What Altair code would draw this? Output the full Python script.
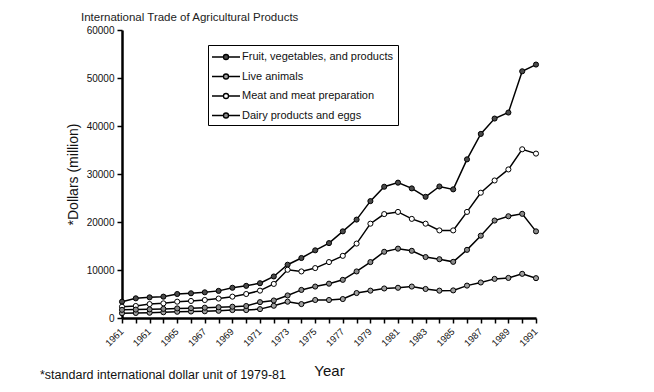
import altair as alt
import pandas as pd

years = list(range(1961, 1992))

fruit = [3400, 4100, 4300, 4450, 5000, 5150, 5350, 5650, 6300, 6700, 7250, 8650,
         11100, 12500, 14100, 15600, 18050, 20500, 24350, 27350, 28200, 27000,
         25250, 27400, 26800, 33050, 38350, 41550, 42800, 51400, 52800]
meat = [2350, 2500, 2900, 3050, 3400, 3550, 3750, 4050, 4450, 5000, 5700, 7100,
        10050, 9700, 10400, 11650, 12950, 15500, 19650, 21650, 22100, 20650,
        19650, 18250, 18250, 22100, 26100, 28650, 30950, 35150, 34250]
dairy = [1700, 1750, 1800, 1900, 2000, 2050, 2150, 2250, 2350, 2500, 3300, 3650,
         4700, 5850, 6550, 7150, 7950, 9700, 11650, 13800, 14450, 14000,
         12700, 12250, 11700, 14200, 17150, 20300, 21200, 21700, 18050]
live = [1000, 1050, 1100, 1200, 1300, 1350, 1400, 1500, 1650, 1650, 1850, 2550,
        3400, 2900, 3750, 3750, 3950, 5200, 5700, 6150, 6300, 6550,
        6050, 5700, 5750, 6750, 7400, 8150, 8350, 9200, 8300]

series_names = ["Fruit, vegetables, and products", "Live animals",
                "Meat and meat preparation", "Dairy products and eggs"]
series_values = [fruit, live, meat, dairy]
marker_fills = ["#4a4a4a", "#a0a0a0", "#ffffff", "#8a8a8a"]

y_ticks = [0, 10000, 20000, 30000, 40000, 50000, 60000]

title_text = "International Trade of Agricultural Products"
y_title = "*Dollars (million)"
x_title = "Year"
footnote = "*standard international dollar unit of 1979-81"

rows = []
for name, vals in zip(series_names, series_values):
    for yr, v in zip(years, vals):
        rows.append({"year": yr, "value": v, "series": name})
df = pd.DataFrame(rows)

FONT = "Liberation Sans"

x_axis = alt.Axis(
    values=years,
    labelExpr="datum.value % 2 == 1 ? (datum.value == 1963 ? '1961' : toString(datum.value)) : ''",
    labelAngle=-45, labelAlign="right", labelBaseline="top",
    labelFontSize=9.5, labelFont=FONT, labelColor="#111",
    labelOverlap=False, labelFlush=False, labelBound=False, labelPadding=3,
    labelOffset=-4,
    tickSize=5, tickWidth=1.5, tickColor="black",
    domainWidth=2.5, domainColor="black",
    title=x_title, titleFont=FONT, titleFontSize=15, titleFontWeight="normal",
    titleColor="#111", titleY=57, titleBaseline="alphabetic",
    grid=False,
)
y_axis = alt.Axis(
    values=y_ticks, format="d",
    labelFontSize=10, labelFont=FONT, labelColor="#111", labelPadding=3,
    tickSize=5, tickWidth=1.5, tickColor="black",
    domainWidth=2.5, domainColor="black",
    title=y_title, titleFont=FONT, titleFontSize=14, titleFontWeight="normal",
    titleColor="#111", titleX=-42, titleY=144, titleBaseline="bottom",
    titleAngle=270, titleAlign="center",
    grid=False,
)

def x_enc():
    return alt.X("year:Q", scale=alt.Scale(domain=[1961, 1991], nice=False, zero=False),
                 axis=x_axis)

def y_enc():
    return alt.Y("value:Q", scale=alt.Scale(domain=[0, 60000], nice=False), axis=y_axis)

legend_path = ("M -2 0 L -0.36 0 M 0.36 0 L 2 0 "
               "M -0.36 0 A 0.36 0.36 0 1 1 0.36 0 A 0.36 0.36 0 1 1 -0.36 0 Z")

base = alt.Chart(df)

lines = base.mark_line(color="black", strokeWidth=1.5).encode(
    x=x_enc(), y=y_enc(), detail="series:N"
)
points = base.mark_point(filled=True, size=26, stroke="black", strokeWidth=1, opacity=1).encode(
    x=x_enc(), y=y_enc(),
    fill=alt.Fill(
        "series:N",
        scale=alt.Scale(domain=series_names, range=marker_fills),
        legend=alt.Legend(
            title=None, orient="none", legendX=86, legendY=15,
            strokeColor="black", padding=4, fillColor="white",
            symbolType=legend_path, symbolSize=196, symbolStrokeColor="black",
            symbolStrokeWidth=1.3, symbolOffset=6, labelOffset=8,
            rowPadding=5.5, labelFont=FONT, labelFontSize=11, labelColor="#111",
            labelLimit=300,
        ),
    ),
)

note = alt.Chart(pd.DataFrame({"note": [footnote]})).mark_text(
    align="left", baseline="alphabetic", font=FONT, fontSize=12.5, color="#111"
).encode(text="note:N", x=alt.value(-82), y=alt.value(349))

chart = alt.layer(lines, points, note).properties(
    width=414, height=288,
    title=alt.TitleParams(title_text, anchor="start", frame="group", dx=-41, offset=2,
                          font=FONT, fontSize=11.5, fontWeight="normal", color="#222"),
    autosize=alt.AutoSizeParams(type="none"),
    padding={"left": 114, "top": 22, "right": 100, "bottom": 66},
).configure_view(stroke=None)

chart.save("out.html", embed_options={"renderer": "svg", "actions": False})
